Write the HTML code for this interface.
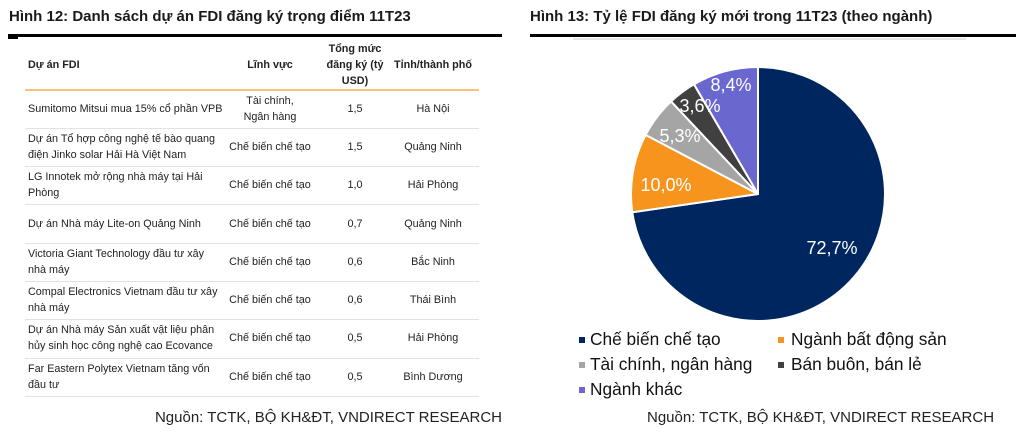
<!DOCTYPE html>
<html><head><meta charset="utf-8"><style>
body{margin:0;width:1016px;height:432px;background:#fff;position:relative;overflow:hidden;font-family:"Liberation Sans",Arial,sans-serif;color:#111}
.a{position:absolute;white-space:nowrap}
.t{font-weight:bold;font-size:15px;color:#1a1a1a}
.c{font-size:10.8px;line-height:16px;color:#222}
.ctr{text-align:center}
.hl{position:absolute;height:1px;background:#e2e2e2;left:25px;width:454px}
.src{font-size:15px;color:#222}
.lg{font-size:17.3px;color:#111}
.mk{position:absolute;width:6px;height:6px}
</style></head><body>
<div class="a t" style="left:9px;top:8px">Hình 12: Danh sách dự án FDI đăng ký trọng điểm 11T23</div>
<div class="a" style="left:8px;top:34px;width:494px;height:3px;background:#000"></div>
<div class="a" style="left:8px;top:37px;width:10px;height:2px;background:#000"></div>
<div class="a c" style="left:28px;top:57px;font-weight:bold">Dự án FDI</div>
<div class="a c ctr" style="left:230px;width:80px;top:57px;font-weight:bold">Lĩnh vực</div>
<div class="a c ctr" style="left:320px;width:70px;top:41px;font-weight:bold">Tổng mức<br>đăng ký (tỷ<br>USD)</div>
<div class="a c ctr" style="left:388px;width:90px;top:57px;font-weight:bold">Tỉnh/thành phố</div>
<div class="a" style="left:25px;top:89px;width:454px;height:2px;background:#f7c27a"></div>
<div class="hl" style="top:128px"></div><div class="hl" style="top:166px"></div><div class="hl" style="top:204px"></div><div class="hl" style="top:243px"></div><div class="hl" style="top:281px"></div><div class="hl" style="top:319px"></div><div class="hl" style="top:358px"></div><div class="hl" style="top:396px"></div>

<div class="a c" style="left:28px;top:101px">Sumitomo Mitsui mua 15% cổ phần VPB</div>
<div class="a c ctr" style="left:220px;width:100px;top:93px">Tài chính,<br>Ngân hàng</div>
<div class="a c ctr" style="left:325px;width:60px;top:101px">1,5</div>
<div class="a c ctr" style="left:388px;width:90px;top:101px">Hà Nội</div>

<div class="a c" style="left:28px;top:131px">Dự án Tổ hợp công nghệ tế bào quang<br>điện Jinko solar Hải Hà Việt Nam</div>
<div class="a c ctr" style="left:220px;width:100px;top:139px">Chế biến chế tạo</div>
<div class="a c ctr" style="left:325px;width:60px;top:139px">1,5</div>
<div class="a c ctr" style="left:388px;width:90px;top:139px">Quảng Ninh</div>

<div class="a c" style="left:28px;top:169px">LG Innotek mở rộng nhà máy tại Hải<br>Phòng</div>
<div class="a c ctr" style="left:220px;width:100px;top:177px">Chế biến chế tạo</div>
<div class="a c ctr" style="left:325px;width:60px;top:177px">1,0</div>
<div class="a c ctr" style="left:388px;width:90px;top:177px">Hải Phòng</div>

<div class="a c" style="left:28px;top:216px">Dự án Nhà máy Lite-on Quảng Ninh</div>
<div class="a c ctr" style="left:220px;width:100px;top:216px">Chế biến chế tạo</div>
<div class="a c ctr" style="left:325px;width:60px;top:216px">0,7</div>
<div class="a c ctr" style="left:388px;width:90px;top:216px">Quảng Ninh</div>

<div class="a c" style="left:28px;top:246px">Victoria Giant Technology đầu tư xây<br>nhà máy</div>
<div class="a c ctr" style="left:220px;width:100px;top:254px">Chế biến chế tạo</div>
<div class="a c ctr" style="left:325px;width:60px;top:254px">0,6</div>
<div class="a c ctr" style="left:388px;width:90px;top:254px">Bắc Ninh</div>

<div class="a c" style="left:28px;top:284px">Compal Electronics Vietnam đầu tư xây<br>nhà máy</div>
<div class="a c ctr" style="left:220px;width:100px;top:292px">Chế biến chế tạo</div>
<div class="a c ctr" style="left:325px;width:60px;top:292px">0,6</div>
<div class="a c ctr" style="left:388px;width:90px;top:292px">Thái Bình</div>

<div class="a c" style="left:28px;top:322px">Dự án Nhà máy Sản xuất vật liệu phân<br>hủy sinh học công nghệ cao Ecovance</div>
<div class="a c ctr" style="left:220px;width:100px;top:330px">Chế biến chế tạo</div>
<div class="a c ctr" style="left:325px;width:60px;top:330px">0,5</div>
<div class="a c ctr" style="left:388px;width:90px;top:330px">Hải Phòng</div>

<div class="a c" style="left:28px;top:361px">Far Eastern Polytex Vietnam tăng vốn<br>đầu tư</div>
<div class="a c ctr" style="left:220px;width:100px;top:369px">Chế biến chế tạo</div>
<div class="a c ctr" style="left:325px;width:60px;top:369px">0,5</div>
<div class="a c ctr" style="left:388px;width:90px;top:369px">Bình Dương</div>

<div class="a src" style="right:514px;top:409px">Nguồn: TCTK, BỘ KH&amp;ĐT, VNDIRECT RESEARCH</div>

<div class="a t" style="left:530px;top:8px">Hình 13: Tỷ lệ FDI đăng ký mới trong 11T23 (theo ngành)</div>
<div class="a" style="left:530px;top:34px;width:486px;height:3px;background:#000"></div>
<div class="a" style="left:573px;top:38px;width:393px;height:2px;background:#e6e6e6"></div>

<svg class="a" style="left:0;top:0" width="1016" height="432">
<g stroke="#fff" stroke-width="2" stroke-linejoin="round">
<path d="M758,194 L758,67 A127,127 0 1 1 632.3,212.3 Z" fill="#002660"/>
<path d="M758,194 L632.3,212.3 A127,127 0 0 1 645.6,134.9 Z" fill="#f7941d"/>
<path d="M758,194 L645.6,134.9 A127,127 0 0 1 671.1,101.4 Z" fill="#a5a5a5"/>
<path d="M758,194 L671.1,101.4 A127,127 0 0 1 694.0,84.3 Z" fill="#404040"/>
<path d="M758,194 L694.0,84.3 A127,127 0 0 1 758,67 Z" fill="#6a67ce"/>
</g>
<g fill="#fff" font-family="Liberation Sans, Arial, sans-serif" font-size="18" text-anchor="middle">
<text x="832" y="254">72,7%</text>
<text x="666" y="191">10,0%</text>
<text x="680" y="142">5,3%</text>
<text x="700" y="112">3,6%</text>
<text x="731" y="91">8,4%</text>
</g>
</svg>

<div class="mk" style="left:579px;top:337px;background:#002660"></div>
<div class="a lg" style="left:590px;top:329px">Chế biến chế tạo</div>
<div class="mk" style="left:778px;top:337px;background:#f7941d"></div>
<div class="a lg" style="left:791px;top:329px">Ngành bất động sản</div>
<div class="mk" style="left:579px;top:362px;background:#a5a5a5"></div>
<div class="a lg" style="left:590px;top:354px">Tài chính, ngân hàng</div>
<div class="mk" style="left:778px;top:362px;background:#404040"></div>
<div class="a lg" style="left:791px;top:354px">Bán buôn, bán lẻ</div>
<div class="mk" style="left:579px;top:387px;background:#6a67ce"></div>
<div class="a lg" style="left:590px;top:379px">Ngành khác</div>

<div class="a src" style="left:647px;top:409px">Nguồn: TCTK, BỘ KH&amp;ĐT, VNDIRECT RESEARCH</div>
</body></html>
